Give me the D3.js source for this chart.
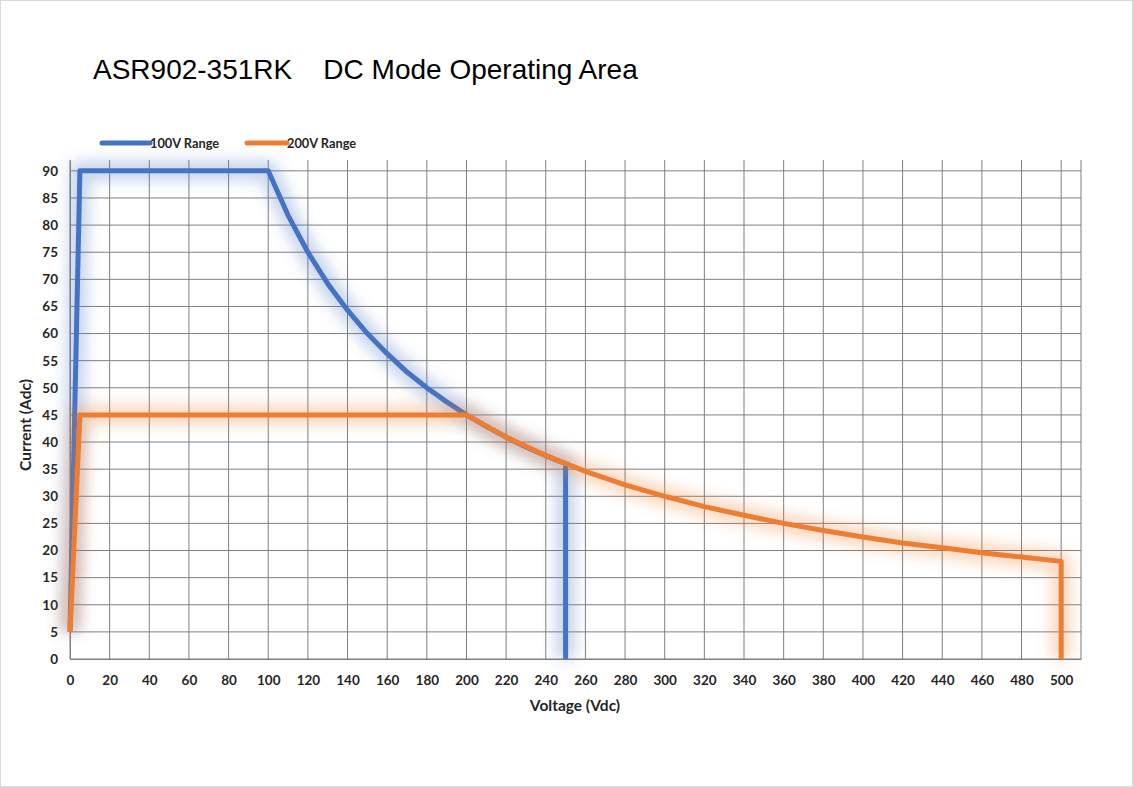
<!DOCTYPE html>
<html><head><meta charset="utf-8">
<script src="https://cdn.jsdelivr.net/npm/d3@7"></script>
<style>body{margin:0;background:#fff}</style>
</head><body>
<svg id="c" width="1133" height="787"></svg>
<script>
const title = "ASR902-351RK    DC Mode Operating Area";
const seriesNames = ["100V Range", "200V Range"];
const seriesColors = ["#4472C4", "#ED7D31"];
const range100V = [0,5,20,40,60,80,100,110,120,130,140,150,160,170,180,190,200,210,220,230,240,250,250];
const range100I = [5,90,90,90,90,90,90,81.8,75,69.2,64.3,60,56.3,52.9,50,47.4,45,42.9,40.9,39.1,37.5,36,0];
const range200V = [0,5,50,100,150,200,220,240,260,280,300,320,340,360,380,400,420,440,460,480,500,500];
const range200I = [5,45,45,45,45,45,40.9,37.5,34.6,32.1,30,28.1,26.5,25,23.7,22.5,21.4,20.5,19.6,18.8,18,0];
const xTicks = d3.range(0, 501, 20);
const yTicks = d3.range(0, 91, 5);

const svg = d3.select("#c");
svg.append("rect").attr("x",0.5).attr("y",0.5).attr("width",1132).attr("height",786)
  .attr("fill","#fff").attr("stroke","#d9d9d9");

const x = d3.scaleLinear().domain([0,510]).range([70,1081]);
const y = d3.scaleLinear().domain([0,92]).range([659,160]);

const defs = svg.append("defs");
const f = defs.append("filter").attr("id","glow").attr("x","-20%").attr("y","-20%").attr("width","140%").attr("height","140%");
f.append("feGaussianBlur").attr("stdDeviation",7);

svg.append("text").attr("x",93).attr("y",79).attr("font-family","'Liberation Sans', Arial, sans-serif")
  .attr("font-size",28).attr("fill","#000").attr("xml:space","preserve").style("white-space","pre").text(title);

// grid
const g = svg.append("g");
g.selectAll(".vg").data(xTicks.concat([510])).join("line")
  .attr("x1",d=>x(d)).attr("x2",d=>x(d)).attr("y1",y(92)).attr("y2",y(0))
  .attr("stroke","#7f7f7f").attr("stroke-width",1);
g.selectAll(".hg").data(yTicks).join("line")
  .attr("x1",x(0)).attr("x2",x(510)).attr("y1",d=>y(d)).attr("y2",d=>y(d))
  .attr("stroke","#7f7f7f").attr("stroke-width",1);

// axes
const font = "Lato, 'Open Sans', sans-serif";
const xa = svg.append("g").attr("transform",`translate(0,${y(0)})`)
  .call(d3.axisBottom(x).tickValues(xTicks).tickSize(0).tickPadding(16).tickFormat(d3.format("d")));
xa.select(".domain").attr("stroke","#7f7f7f");
xa.selectAll("text").attr("font-family",font).attr("font-weight","bold").attr("font-size",13.5).attr("fill","#262626");
const ya = svg.append("g").attr("transform",`translate(${x(0)},0)`)
  .call(d3.axisLeft(y).tickValues(yTicks).tickSize(0).tickPadding(12).tickFormat(d3.format("d")));
ya.select(".domain").attr("stroke","#7f7f7f");
ya.selectAll("text").attr("font-family",font).attr("font-weight","bold").attr("font-size",13.5).attr("fill","#262626");

svg.append("text").attr("x",575).attr("y",711).attr("text-anchor","middle")
  .attr("font-family",font).attr("font-weight","bold").attr("font-size",15.5).attr("fill","#262626").text("Voltage (Vdc)");
svg.append("text").attr("transform","translate(31,425) rotate(-90)").attr("text-anchor","middle")
  .attr("font-family",font).attr("font-weight","bold").attr("font-size",15.5).attr("fill","#262626").text("Current (Adc)");

// lines
const line = d3.line().x(d=>x(d[0])).y(d=>y(d[1]));
const s100 = range100V.map((v,i)=>[v,range100I[i]]);
const s200 = range200V.map((v,i)=>[v,range200I[i]]);
[[s100,0],[s200,1]].forEach(([data,i])=>{
  svg.append("path").attr("d",line(data)).attr("fill","none").attr("stroke",seriesColors[i])
    .attr("stroke-width",20).attr("stroke-opacity",0.3).attr("stroke-linejoin","round").attr("filter","url(#glow)");
  svg.append("path").attr("d",line(data)).attr("fill","none").attr("stroke",seriesColors[i])
    .attr("stroke-width",5).attr("stroke-linejoin","round");
});

// legend
const leg = [[102,150,seriesNames[0],0],[247,287,seriesNames[1],1]];
leg.forEach(([x1,x2,t,i])=>{
  svg.append("line").attr("x1",x1).attr("x2",x2).attr("y1",143).attr("y2",143)
    .attr("stroke",seriesColors[i]).attr("stroke-width",5).attr("stroke-linecap","round");
  svg.append("text").attr("x",x2).attr("y",147.5).attr("font-family",font).attr("font-weight","bold")
    .attr("font-size",12.8).attr("fill","#262626").text(t);
});
</script>
</body></html>
